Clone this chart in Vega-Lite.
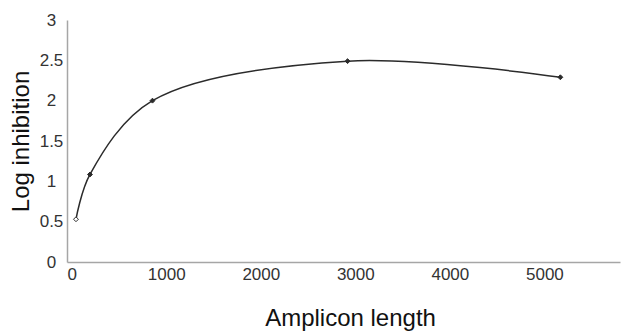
{
  "$schema": "https://vega.github.io/schema/vega-lite/v6.json",
  "width": 553,
  "height": 242,
  "autosize": {"type": "none"},
  "padding": {"left": 67, "top": 20, "right": 3, "bottom": 71},
  "config": {"view": {"stroke": null}, "font": "Liberation Sans"},
  "data": {
    "values": [
      {"length": 45, "inhibition": 0.53, "marker": "open"},
      {"length": 193, "inhibition": 1.085, "marker": "solid"},
      {"length": 854, "inhibition": 2.0, "marker": "solid"},
      {"length": 2918, "inhibition": 2.49, "marker": "solid"},
      {"length": 5169, "inhibition": 2.29, "marker": "solid"}
    ]
  },
  "encoding": {
    "x": {
      "field": "length",
      "type": "quantitative",
      "scale": {"domain": [-50, 5800], "nice": false, "zero": false},
      "axis": {
        "values": [0, 1000, 2000, 3000, 4000, 5000],
        "format": "d",
        "grid": false,
        "ticks": false,
        "tickSize": 0,
        "domainColor": "#a6a6a6",
        "domainWidth": 1.5,
        "labelFontSize": 17,
        "labelColor": "#333333",
        "labelPadding": 4,
        "title": "Amplicon length",
        "titleFontSize": 24,
        "titleFontWeight": "normal",
        "titleColor": "#111111",
        "titlePadding": 24,
        "titleX": 283
      }
    },
    "y": {
      "field": "inhibition",
      "type": "quantitative",
      "scale": {"domain": [0, 3], "nice": false},
      "axis": {
        "values": [0, 0.5, 1, 1.5, 2, 2.5, 3],
        "format": "~g",
        "grid": false,
        "ticks": false,
        "tickSize": 0,
        "domainColor": "#a6a6a6",
        "domainWidth": 1.5,
        "labelFontSize": 17,
        "labelColor": "#333333",
        "labelAlign": "center",
        "labelPadding": 16,
        "title": "Log inhibition",
        "titleFontSize": 24,
        "titleFontWeight": "normal",
        "titleColor": "#111111",
        "titlePadding": 6
      }
    }
  },
  "layer": [
    {
      "mark": {"type": "line", "interpolate": "catmull-rom", "color": "#2b2b2b", "strokeWidth": 1.5}
    },
    {
      "mark": {"type": "point", "shape": "diamond", "size": 24, "filled": true, "strokeWidth": 1, "opacity": 1},
      "encoding": {
        "fill": {"field": "marker", "type": "nominal", "scale": {"domain": ["open", "solid"], "range": ["#ffffff", "#2b2b2b"]}, "legend": null},
        "stroke": {"value": "#2b2b2b"}
      }
    }
  ]
}
